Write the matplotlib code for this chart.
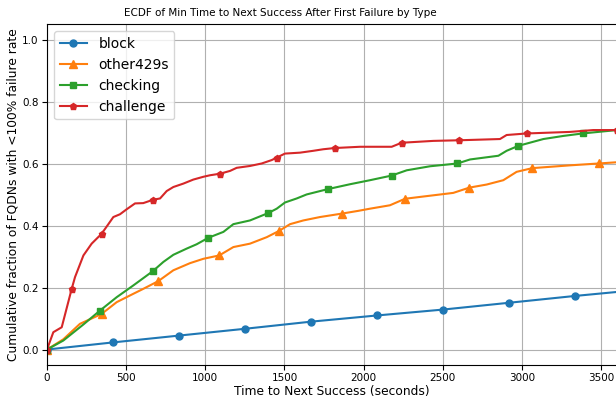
import matplotlib
matplotlib.use("Agg")
import matplotlib.pyplot as plt

# time grid points (seconds) and cumulative fraction for each failure type
block_t = [0, 417, 833, 1250, 1667, 2083, 2500, 2917, 3333, 3600]
block_y = [0.0, 0.023, 0.045, 0.067, 0.090, 0.110, 0.129, 0.151, 0.173, 0.186]

other_t = [0, 103, 208, 345, 440, 545, 608, 703, 798, 903, 987, 1088, 1177, 1282,
           1388, 1465, 1535, 1619, 1724, 1861, 1966, 2040, 2166, 2261, 2356, 2566,
           2667, 2777, 2882, 2966, 3065, 3303, 3484, 3600]
other_y = [0.0, 0.033, 0.083, 0.115, 0.153, 0.180, 0.196, 0.221, 0.256, 0.279, 0.293,
           0.304, 0.331, 0.342, 0.363, 0.383, 0.405, 0.417, 0.428, 0.439, 0.448, 0.455,
           0.466, 0.487, 0.493, 0.506, 0.523, 0.533, 0.547, 0.574, 0.586, 0.595, 0.601,
           0.605]

checking_t = [0, 103, 230, 335, 440, 545, 668, 735, 798, 882, 945, 1019, 1114, 1177,
              1282, 1398, 1451, 1503, 1577, 1640, 1772, 1914, 2040, 2177, 2272, 2419,
              2592, 2672, 2851, 2903, 2977, 3135, 3261, 3383, 3600]
checking_y = [0.0, 0.029, 0.081, 0.126, 0.169, 0.207, 0.253, 0.283, 0.306, 0.326,
              0.340, 0.361, 0.380, 0.405, 0.417, 0.441, 0.455, 0.475, 0.488, 0.501,
              0.518, 0.534, 0.547, 0.562, 0.579, 0.592, 0.601, 0.614, 0.626, 0.642,
              0.658, 0.680, 0.690, 0.698, 0.709]

challenge_t = [0, 40, 93, 156, 177, 230, 282, 345, 419, 461, 503, 556, 608, 671, 714,
               756, 798, 861, 924, 987, 1030, 1093, 1156, 1198, 1282, 1356, 1419, 1451,
               1503, 1598, 1682, 1745, 1819, 1977, 2177, 2240, 2440, 2604, 2861, 2903,
               3030, 3303, 3450, 3600]
challenge_y = [0.0, 0.056, 0.072, 0.196, 0.234, 0.304, 0.342, 0.374, 0.428, 0.437,
               0.453, 0.472, 0.473, 0.484, 0.488, 0.512, 0.525, 0.536, 0.549, 0.558,
               0.563, 0.568, 0.577, 0.587, 0.593, 0.601, 0.612, 0.620, 0.633, 0.636,
               0.642, 0.647, 0.651, 0.655, 0.655, 0.668, 0.674, 0.676, 0.680, 0.693,
               0.698, 0.703, 0.709, 0.709]

series = [
    ("block", block_t, block_y, "o", 5),
    ("other429s", other_t, other_y, "^", 5.5),
    ("checking", checking_t, checking_y, "s", 5),
    ("challenge", challenge_t, challenge_y, "p", 5),
]

fig = plt.figure(figsize=(6.16, 3.99), dpi=100)
ax = fig.add_axes([0.0763, 0.0852, 0.9253, 0.8534])

for name, t, y, mk, ms in series:
    ax.plot(t, y, marker=mk, markersize=ms, markevery=0.1, linewidth=1.5, label=name)

ax.set_xlim(0, 3600)
ax.set_ylim(-0.05, 1.05)
ax.set_xticks(range(0, 3600, 500))
ax.tick_params(labelsize=7.5, pad=2.5)
ax.grid(True)
ax.set_title("ECDF of Min Time to Next Success After First Failure by Type",
             fontsize=7.5, x=0.41)
ax.set_xlabel("Time to Next Success (seconds)", fontsize=8.8, labelpad=1.5)
ax.set_ylabel("Cumulative fraction of FQDNs with <100% failure rate", fontsize=8.8,
              labelpad=2)
ax.legend(loc="upper left", fontsize=10)

fig.savefig("out.png", dpi=100)
